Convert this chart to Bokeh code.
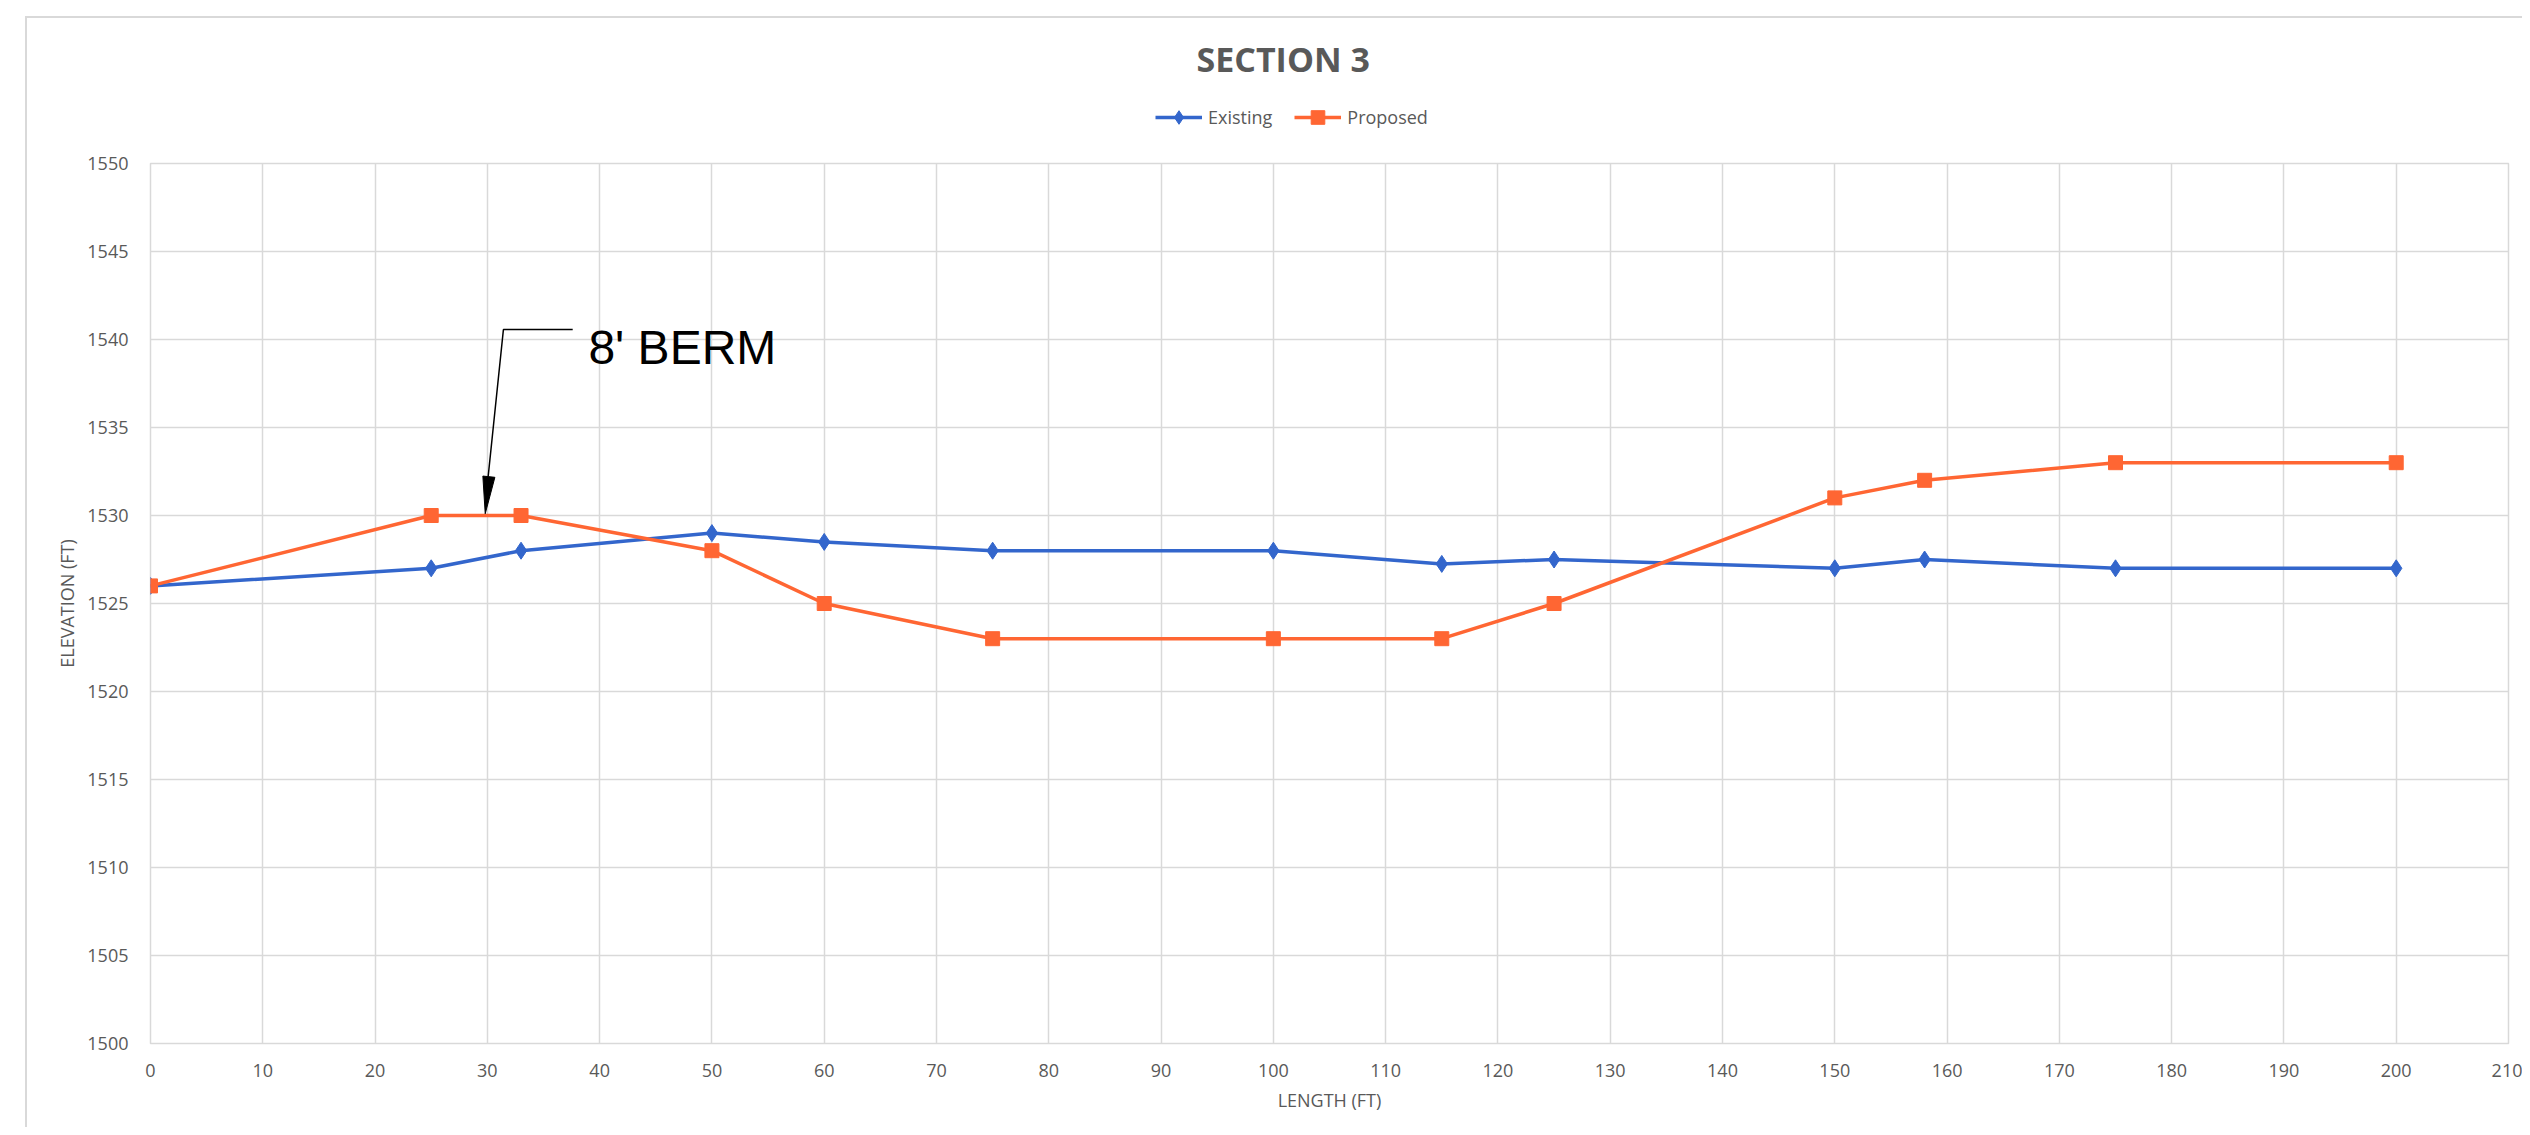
from bokeh.plotting import figure
from bokeh.layouts import column
from bokeh.models import (Range1d, FixedTicker, Legend, LegendItem, Label)
from bokeh.embed import file_html
from bokeh.resources import INLINE

# ---- data ----
length_ft = [0, 25, 33, 50, 60, 75, 100, 115, 125, 150, 158, 175, 200]
existing = [1526, 1527, 1528, 1529, 1528.5, 1528, 1528, 1527.25, 1527.5, 1527, 1527.5, 1527, 1527]
proposed = [1526, 1530, 1530, 1528, 1525, 1523, 1523, 1523, 1525, 1531, 1532, 1533, 1533]
x_ticks = list(range(0, 211, 10))
y_ticks = list(range(1500, 1551, 5))
series_names = ["Existing", "Proposed"]
chart_title = "SECTION 3"

# annotation (data coordinates)
berm_text = "8' BERM"
berm_label_xy = (39.0, 1539.56)
leader_x = [37.6, 31.43, 30.07]
leader_y = [1540.57, 1540.57, 1532.2]
head_x = [29.81, 30.67, 29.60]
head_y = [1530.1, 1532.17, 1532.24]

BLUE = "#3366CC"
ORANGE = "#FF6633"
GRID = "#D9D9D9"
TXT = "#595959"
FONT = "Open Sans"
W = 2522
HEAD_H = 143
NAN = float("nan")

# ---------------- header (title + legend) ----------------
# the header frame is aligned with the main frame (page x 150 .. 2508)
head = figure(width=W, height=HEAD_H, output_backend="svg", toolbar_location=None,
              x_range=Range1d(150, 2508), y_range=Range1d(HEAD_H, 0), min_border=0)
head.axis.visible = False
head.grid.visible = False
head.outline_line_color = None
head.border_fill_alpha = 0
head.background_fill_alpha = 0

head.add_layout(Label(x=1196, y=58, text=chart_title, text_font=FONT, text_font_size="34px",
                      text_font_style="bold", text_color=TXT, text_baseline="middle",
                      text_align="left"))

# legend-only renderers (no visible data)
hl1 = head.line([NAN], [NAN], line_color=BLUE, line_width=3.5)
hm1 = head.scatter([NAN], [NAN], marker="diamond", size=17, fill_color=BLUE, line_color=BLUE)
hl2 = head.line([NAN], [NAN], line_color=ORANGE, line_width=3.5)
hm2 = head.scatter([NAN], [NAN], marker="square", size=14, fill_color=ORANGE, line_color=ORANGE)
legend = Legend(items=[LegendItem(label=series_names[0], renderers=[hl1, hm1]),
                       LegendItem(label=series_names[1], renderers=[hl2, hm2])],
                orientation="horizontal", location=(1005, 9),
                label_text_font=FONT, label_text_font_size="18px", label_text_color=TXT,
                glyph_width=47, glyph_height=34, label_standoff=6, spacing=22,
                padding=0, margin=0, border_line_color=None, background_fill_alpha=0)
head.add_layout(legend, "center")

# ---------------- main chart ----------------
p = figure(width=W, height=1127 - HEAD_H, output_backend="svg", toolbar_location=None,
           x_range=Range1d(0, 210), y_range=Range1d(1500, 1550),
           min_border_left=150, min_border_right=14, min_border_top=20, min_border_bottom=84)
p.border_fill_alpha = 0
p.outline_line_color = GRID
p.outline_line_width = 1.5

for ax in (p.xaxis, p.yaxis):
    ax.axis_line_color = None
    ax.major_tick_line_color = None
    ax.minor_tick_line_color = None
    ax.major_label_text_font = FONT
    ax.major_label_text_font_size = "18px"
    ax.major_label_text_color = TXT
    ax.axis_label_text_font = FONT
    ax.axis_label_text_font_size = "18px"
    ax.axis_label_text_color = TXT
    ax.axis_label_text_font_style = "normal"

p.xaxis.ticker = FixedTicker(ticks=x_ticks)
p.yaxis.ticker = FixedTicker(ticks=y_ticks)
p.xaxis.axis_label = "LENGTH (FT)"
p.yaxis.axis_label = "ELEVATION (FT)"
p.xaxis.major_label_standoff = 14
p.yaxis.major_label_standoff = 16
p.xaxis.axis_label_standoff = 8
p.yaxis.axis_label_standoff = 5

p.xgrid.ticker = FixedTicker(ticks=x_ticks)
p.ygrid.ticker = FixedTicker(ticks=y_ticks)
for g in (p.xgrid, p.ygrid):
    g.grid_line_color = GRID
    g.grid_line_width = 1.5

p.line(length_ft, existing, line_color=BLUE, line_width=3.5)
p.scatter(length_ft, existing, marker="diamond", size=17, fill_color=BLUE, line_color=BLUE)
p.line(length_ft, proposed, line_color=ORANGE, line_width=3.5)
p.scatter(length_ft, proposed, marker="square", size=14, fill_color=ORANGE, line_color=ORANGE)

# annotation
p.line(leader_x, leader_y, line_color="black", line_width=1.5)
p.patch(head_x, head_y, fill_color="black", line_color="black", line_width=1)
p.add_layout(Label(x=berm_label_xy[0], y=berm_label_xy[1], text=berm_text,
                   text_font="Liberation Sans", text_font_size="48px", text_color="black",
                   text_baseline="alphabetic", text_align="left"))

layout = column(head, p, spacing=0, styles={
    "background": ("linear-gradient(#D9D9D9,#D9D9D9) 25px 16px / 2px 100% no-repeat, "
                   "linear-gradient(#D9D9D9,#D9D9D9) 25px 16px / 100% 2px no-repeat")
})

open("out.html", "w").write(file_html(layout, INLINE))
